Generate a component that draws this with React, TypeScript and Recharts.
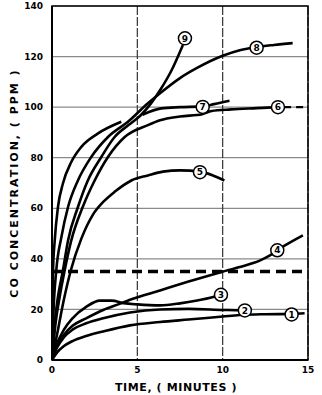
import React from "react";
import {
  LineChart,
  Line,
  XAxis,
  YAxis,
  CartesianGrid,
  ReferenceLine,
  ReferenceDot,
  ReferenceArea,
  Label,
} from "recharts";

// ---- data (time in minutes, CO concentration in ppm) ----
const timeTicks = [0, 5, 10, 15];
const ppmTicks = [0, 20, 40, 60, 80, 100, 120, 140];
const limitPpm = 35;

type Pt = [number, number | null];

const curve1: Pt[] = [
  [0, 0], [0.3, 3], [0.7, 5.5], [1.2, 7.5], [2, 9.5], [3, 11.3], [4.57, 13.7],
  [6.33, 15], [8, 16], [10, 17.2], [11, 17.8], [12.5, 18.1], [14.04, 18.2], [14.8, 18.5],
];
const curve2: Pt[] = [
  [0, 0], [0.3, 5], [0.7, 9], [1.2, 12], [2, 14.5], [3, 16.5], [4.57, 18.8],
  [6.33, 20], [8, 20.2], [10, 19.8], [11.3, 19.6],
];
const curve3: Pt[] = [
  [0, 0], [0.3, 6.5], [0.7, 12], [1.2, 16.5], [2, 21], [2.8, 23.5], [3.5, 23.5],
  [4.2, 22.5], [5, 22], [6.33, 21.6], [7.5, 22.4], [8.5, 23.5], [9.45, 24.9], [9.9, 25.8],
];
const curve4: Pt[] = [
  [0, 0], [0.3, 6], [0.7, 10], [1.2, 13.5], [2, 16.5], [3, 19.8], [4, 22.3],
  [4.57, 23.8], [6.33, 27.5], [8, 31], [9.94, 34.8], [11, 36.8], [12.2, 39.4],
  [12.77, 41.4], [13.65, 45.3], [14.7, 49.3],
];
const curve5: Pt[] = [
  [0, 0], [0.35, 12], [0.7, 24], [1.1, 35.4], [1.72, 48], [2.4, 57.5], [3, 62.5],
  [3.67, 66.5], [4.65, 71], [5.62, 73], [6.5, 74.5], [7.5, 75], [8.7, 74.5],
  [9.5, 72.8], [10.1, 71],
];
const curve6: Pt[] = [
  [0, 0], [0.2, 14], [0.45, 25], [0.74, 35.4], [1.13, 47.3], [1.8, 60.5], [2.5, 71],
  [3.28, 80.3], [4.26, 88.2], [5.62, 92.9], [6.33, 94.8], [7.5, 96.3], [8.8, 97.2],
  [9.35, 98.5], [10.5, 99.1], [12, 99.6], [13.24, 100],
];
const curve6Tail: Pt[] = [[13.6, 100], [15, 100]];
const curve7: Pt[] = [
  [0, 0], [0.03, 20], [0.06, 35.4], [0.16, 47.3], [0.35, 60.5], [0.64, 69.8],
  [1.13, 78.3], [1.72, 84.3], [2.7, 89.6], [4.06, 94.2], [4.7, null], [5.3, 97],
  [6.4, 99.5], [7.5, 100], [8.8, 100.3], [9.5, 101.2], [10.4, 102.5],
];
const curve8: Pt[] = [
  [0, 0], [0.08, 18], [0.25, 35.4], [0.55, 48.6], [0.94, 60.5], [1.52, 71],
  [2.3, 80.3], [3.28, 88.2], [4.45, 94.2], [5.62, 101.5], [6.33, 105.5], [7.5, 111.5],
  [8.5, 115.5], [10, 120.3], [11, 122.5], [12, 123.8], [13, 124.6], [14.1, 125.3],
];
const curve9: Pt[] = [
  [0, 0], [0.15, 14], [0.35, 25], [0.64, 35.4], [0.94, 47.3], [1.52, 60.5], [2.1, 71],
  [2.89, 80.3], [3.67, 88.2], [4.5, 93], [5.2, 96.8], [5.8, 101.5], [6.33, 106.7],
  [7, 114.5], [7.67, 124.6],
];

const curveTags = ["1", "2", "3", "4", "5", "6", "7", "8", "9"];
const tagTimes = [14.04, 11.3, 9.9, 13.2, 8.67, 13.24, 8.83, 11.99, 7.79];
const tagValues = [18, 19.6, 25.8, 43.4, 74.3, 100, 100.1, 123.5, 127.2];

const solidCurves = [curve1, curve2, curve3, curve4, curve5, curve6, curve7, curve8, curve9];

const toRows = (pts: Pt[]) => pts.map(([t, v]) => ({ t, v }));

const FONT = "'DejaVu Sans', 'Liberation Sans', sans-serif";

export default function App() {
  return (
    <div style={{ position: "absolute", left: 0, top: 0, width: 322, height: 395, background: "#fff" }}>
      <LineChart width={322} height={395} margin={{ top: 6, right: 14, bottom: 0, left: 0 }}>
        <CartesianGrid horizontal vertical={false} stroke="#8a8a8a" strokeWidth={1.2} />
        <CartesianGrid horizontal={false} vertical stroke="#333" strokeWidth={1.2} strokeDasharray="9 2" />
        <XAxis
          dataKey="t"
          type="number"
          domain={[0, 15]}
          ticks={timeTicks}
          allowDataOverflow
          tickLine={false}
          axisLine={{ stroke: "#000", strokeWidth: 2 }}
          height={35}
          tickMargin={1}
          tick={{ fill: "#000", fontSize: 9, fontWeight: "bold", fontFamily: FONT }}
        >
          <Label
            content={() => (
              <text
                x={176}
                y={391}
                textAnchor="middle"
                fontFamily={FONT}
                fontWeight="bold"
                fontSize={11}
                letterSpacing={0.6}
                fill="#000"
              >
                TIME, ( MINUTES )
              </text>
            )}
          />
        </XAxis>
        <YAxis
          type="number"
          domain={[0, 140]}
          ticks={ppmTicks}
          allowDataOverflow
          width={52}
          tickLine={false}
          axisLine={{ stroke: "#000", strokeWidth: 2 }}
          tickMargin={3}
          tick={{ fill: "#000", fontSize: 9, fontWeight: "bold", fontFamily: FONT }}
        >
          <Label
            content={() => (
              <text
                x={18}
                y={183}
                transform="rotate(-90 18 183)"
                textAnchor="middle"
                fontFamily={FONT}
                fontWeight="bold"
                fontSize={11}
                letterSpacing={2}
                fill="#000"
              >
                CO CONCENTRATION, ( PPM )
              </text>
            )}
          />
        </YAxis>
        <ReferenceArea
          x1={0}
          x2={15}
          y1={0}
          y2={140}
          fill="none"
          fillOpacity={0}
          stroke="#000"
          strokeWidth={1.5}
          ifOverflow="visible"
        />
        <ReferenceLine y={limitPpm} stroke="#000" strokeWidth={3.5} strokeDasharray="10 6" />
        {solidCurves.map((c, i) => (
          <Line
            key={"c" + i}
            data={toRows(c)}
            dataKey="v"
            type="monotone"
            stroke="#000"
            strokeWidth={2.6}
            dot={false}
            activeDot={false}
            connectNulls={false}
            isAnimationActive={false}
          />
        ))}
        <Line
          data={toRows(curve6Tail)}
          dataKey="v"
          type="linear"
          stroke="#000"
          strokeWidth={2.2}
          strokeDasharray="7 5"
          dot={false}
          activeDot={false}
          isAnimationActive={false}
        />
        {curveTags.map((tag, i) => (
          <ReferenceDot
            key={"d" + tag}
            x={tagTimes[i]}
            y={tagValues[i]}
            r={6.5}
            fill="#fff"
            stroke="#000"
            strokeWidth={1.5}
            ifOverflow="visible"
            label={{
              value: tag,
              position: "center",
              fill: "#000",
              fontSize: 9,
              fontWeight: "bold",
              fontFamily: FONT,
            }}
          />
        ))}
      </LineChart>
    </div>
  );
}
